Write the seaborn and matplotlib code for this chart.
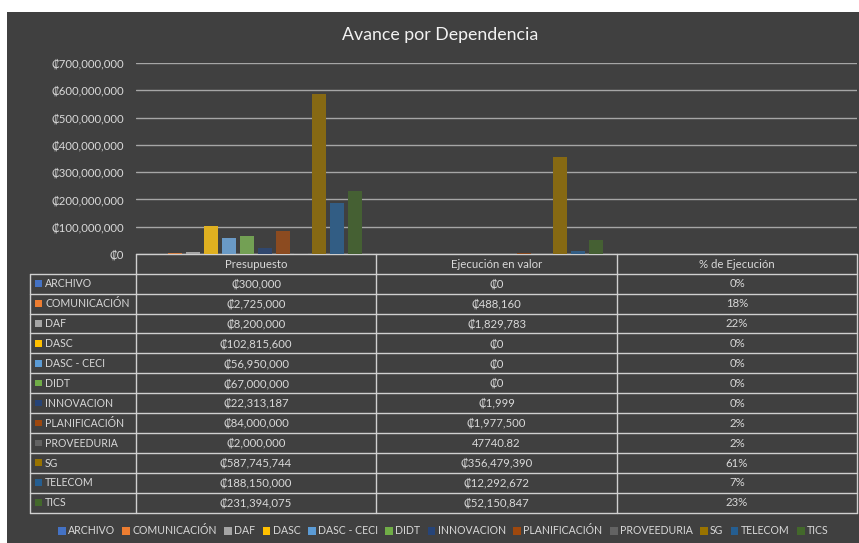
import matplotlib
matplotlib.use("Agg")
import matplotlib.pyplot as plt
from matplotlib.patches import Rectangle, Patch
from matplotlib.ticker import FuncFormatter
import seaborn as sns
import pandas as pd

# ---- data ----
categorias = ["Presupuesto", "Ejecución en valor", "% de Ejecución"]
dependencias = ["ARCHIVO", "COMUNICACIÓN", "DAF", "DASC", "DASC - CECI", "DIDT",
                "INNOVACION", "PLANIFICACIÓN", "PROVEEDURIA", "SG", "TELECOM", "TICS"]
presupuesto = [300000, 2725000, 8200000, 102815600, 56950000, 67000000,
               22313187, 84000000, 2000000, 587745744, 188150000, 231394075]
ejecucion = [0, 488160, 1829783, 0, 0, 0,
             1999, 1977500, 47740.82, 356479390, 12292672, 52150847]
porcentaje = [0.00, 0.18, 0.22, 0.00, 0.00, 0.00,
              0.00, 0.02, 0.02, 0.61, 0.07, 0.23]
colores = ["#4472C4", "#ED7D31", "#A5A5A5", "#FFC000", "#5B9BD5", "#70AD47",
           "#264478", "#9E480E", "#636363", "#997300", "#255E91", "#43682B"]
yticks = [0, 100e6, 200e6, 300e6, 400e6, 500e6, 600e6, 700e6]

rows = []
for i, d in enumerate(dependencias):
    rows.append((categorias[0], d, presupuesto[i]))
    rows.append((categorias[1], d, ejecucion[i]))
    rows.append((categorias[2], d, porcentaje[i]))
df = pd.DataFrame(rows, columns=["categoria", "dependencia", "valor"])

sns.set_theme(style="white")
FONT = ["Lato", "DejaVu Sans"]
plt.rcParams["font.family"] = FONT

BG = "#404040"
TXT = "#d9d9d9"
LINE = "#d0d0d0"
FS = 8.2
FS_LAB = 7.6
W, H = 859, 543

fig = plt.figure(figsize=(W / 100, H / 100), dpi=100, facecolor="white")

# background / table layer in pixel coordinates
bg = fig.add_axes([0, 0, 1, 1])
bg.set_xlim(0, W)
bg.set_ylim(H, 0)
bg.axis("off")
bg.add_patch(Rectangle((7, 12), W - 7, H - 12, facecolor=BG, edgecolor="none", zorder=0))

# bar chart axes
ax_left, ax_right = 136, 857
ax_top, ax_bot = 63, 254
ax = fig.add_axes([ax_left / W, 1 - ax_bot / H, (ax_right - ax_left) / W, (ax_bot - ax_top) / H])
ax.set_facecolor("none")
sns.barplot(data=df, x="categoria", y="valor", hue="dependencia", order=categorias,
            hue_order=dependencias, palette=colores, width=0.9, gap=0.22,
            legend=False, ax=ax, zorder=3, linewidth=0, edgecolor="none")
ax.set_ylim(0, 700e6)
ax.set_xlim(-0.5, 2.5)
ax.set_yticks(yticks)
ax.yaxis.set_major_formatter(FuncFormatter(lambda v, p: "₡{:,.0f}".format(v)))
ax.tick_params(axis="y", length=0, pad=8.5, labelsize=FS, labelcolor=TXT)
ax.set_xticks([])
ax.set_xlabel("")
ax.set_ylabel("")
for s in ax.spines.values():
    s.set_visible(False)
ax.yaxis.grid(True, color="#a6a6a6", lw=1.0, zorder=0)
ax.set_axisbelow(True)

# title
fig.text(440 / W, 1 - 35 / H, "Avance por Dependencia", ha="center", va="center",
         color="#f2f2f2", fontsize=12.8, family=FONT)

# ---- data table ----
col_x = [136, 376, 617, 857]
leg_x0 = 30
head_top, head_bot = 254, 273.7
row_h = 19.9
n = len(dependencias)
tab_bot = head_bot + row_h * n

def fmt_money(v):
    if float(v).is_integer():
        return "₡{:,.0f}".format(v)
    return "{}".format(v)

# header
bg.plot([col_x[0], col_x[-1]], [head_top, head_top], color=LINE, lw=1, zorder=2)
for x in col_x:
    bg.plot([x, x], [head_top, tab_bot], color=LINE, lw=1, zorder=2)
for j, c in enumerate(categorias):
    bg.text((col_x[j] + col_x[j + 1]) / 2, (head_top + head_bot) / 2 + 0.5, c,
            ha="center", va="center", color=TXT, fontsize=FS, family=FONT)
bg.plot([leg_x0, leg_x0], [head_bot, tab_bot], color=LINE, lw=1, zorder=2)
for i in range(n + 1):
    y = head_bot + row_h * i
    bg.plot([leg_x0, col_x[-1]], [y, y], color=LINE, lw=1, zorder=2)

for i, d in enumerate(dependencias):
    yc = head_bot + row_h * (i + 0.5)
    bg.add_patch(Rectangle((35, yc - 3.3), 6.6, 6.6, facecolor=colores[i],
                           edgecolor="none", zorder=3))
    bg.text(45, yc + 0.3, d, ha="left", va="center", color=TXT, fontsize=FS_LAB, family=FONT)
    vals = [fmt_money(presupuesto[i]), fmt_money(ejecucion[i]),
            "{:.0%}".format(porcentaje[i])]
    for j, t in enumerate(vals):
        bg.text((col_x[j] + col_x[j + 1]) / 2, yc + 0.3, t, ha="center", va="center",
                color=TXT, fontsize=FS, family=FONT)

# ---- bottom legend ----
handles = [Patch(facecolor=c, edgecolor="none", label=d) for d, c in zip(dependencias, colores)]
leg = fig.legend(handles=handles, loc="center", bbox_to_anchor=(443 / W, 1 - 531 / H),
                 ncol=12, frameon=False, fontsize=FS_LAB, handlelength=0.75,
                 handleheight=0.75, handletextpad=0.2, columnspacing=0.7,
                 borderaxespad=0, borderpad=0)
for t in leg.get_texts():
    t.set_color(TXT)
    t.set_family(FONT)

fig.savefig("out.png", dpi=100, facecolor="white")
